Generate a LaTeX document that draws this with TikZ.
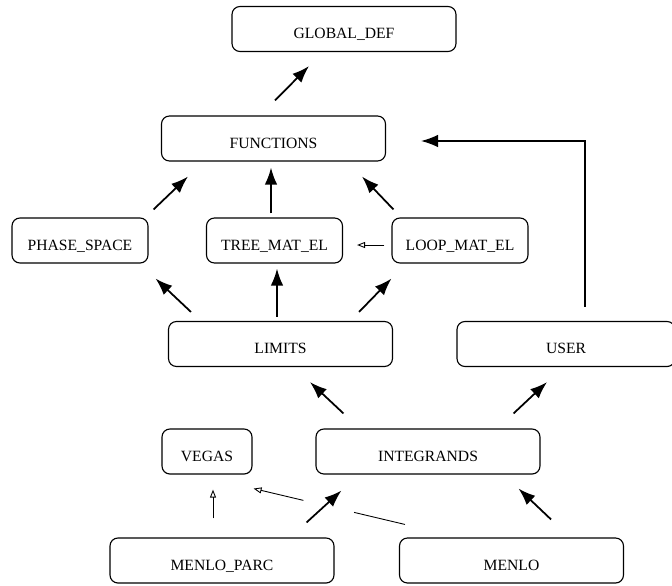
\documentclass[tikz,border=0pt]{standalone}
\usepackage{fontspec}
\setmainfont{Liberation Serif}
\usetikzlibrary{arrows.meta,calc}

\begin{document}
\begin{tikzpicture}[x=0.02cm,y=-0.02cm,
    box/.style={draw,rounded corners=4.5pt,line width=0.65pt,minimum height=0.9cm,
      inner sep=0pt,text height=11pt,text depth=0pt,font=\fontsize{8.9}{10}\selectfont},
    wide/.style={box,minimum width=4.48cm},
    mid/.style={box,minimum width=2.72cm},
    small/.style={box,minimum width=1.8cm},
    big/.style={line width=1pt,-{Latex[length=0.34cm,width=0.25cm]}},
    open/.style={line width=0.5pt,-{Triangle[open,length=1.6mm,width=1.2mm]}},
    plain/.style={line width=0.5pt}]
  \useasboundingbox (0,0) rectangle (672,585);
  \clip (0,0) rectangle (672,585);
  \node[wide] (global) at (344,29) {GLOBAL\_DEF};
  \node[wide] (functions) at (273.5,138.5) {FUNCTIONS};
  \node[mid] (phase) at (80,240.5) {PHASE\_SPACE};
  \node[mid] (tree) at (274.5,240.5) {TREE\_MAT\_EL};
  \node[mid] (loop) at (460,240.5) {LOOP\_MAT\_EL};
  \node[wide] (limits) at (280.5,344) {LIMITS};
  \node[box,minimum width=4.36cm] (user) at (566,344) {USER};
  \node[small] (vegas) at (207,451.5) {VEGAS};
  \node[wide] (integrands) at (428,451.5) {INTEGRANDS};
  \node[wide] (parc) at (222,560.5) {MENLO\_PARC};
  \node[wide] (menlo) at (511.5,560.5) {MENLO};

  \draw[big] ([shift={(1.5,-15)}]functions.north) -- ([shift={(-35,14)}]global.south);
  \draw[big] ([shift={(5,-8)}]phase.north east) -- ([shift={(27,15)}]functions.south west);
  \draw[big] ([shift={(-3.5,-4)}]tree.north) -- ([shift={(-2.5,6)}]functions.south);
  \draw[big] ([shift={(2,-8)}]loop.north west) -- ([shift={(-24,15)}]functions.south east);
  \draw[open] ([shift={(-7,4.5)}]loop.west) -- ([shift={(14,4.5)}]tree.east);
  \draw[big] ([shift={(23,-9)}]limits.north west) -- ([shift={(7,15)}]phase.south east);
  \draw[big] ([shift={(-3.5,-4)}]limits.north) -- ([shift={(2.5,5)}]tree.south);
  \draw[big] ([shift={(-34,-9)}]limits.north east) -- ([shift={(0,15)}]loop.south west);
  \draw[big,line width=0.7pt] ([shift={(19,-14)}]user.north) |- ([shift={(35,2.5)}]functions.east);
  \draw[big] ([shift={(28,-15)}]integrands.north west) -- ([shift={(29.5,15)}]limits.south);
  \draw[big] ([shift={(-27,-15)}]integrands.north east) -- ([shift={(-19,15)}]user.south);
  \draw[open] ([shift={(-9,-19)}]parc.north) -- ([shift={(6,15)}]vegas.south);
  \coordinate (ms) at ([shift={(6,-13)}]menlo.north west);
  \coordinate (ve) at ([shift={(1,14)}]vegas.south east);
  \draw[plain] (ms) -- ($(ms)!0.336!(ve)$);
  \draw[open] ($(ms)!0.671!(ve)$) -- (ve);
  \draw[big] ([shift={(-28,-15)}]parc.north east) -- ([shift={(26,16)}]integrands.south west);
  \draw[big] ([shift={(-73,-18)}]menlo.north east) -- ([shift={(-22,14)}]integrands.south east);
\end{tikzpicture}
\end{document}
